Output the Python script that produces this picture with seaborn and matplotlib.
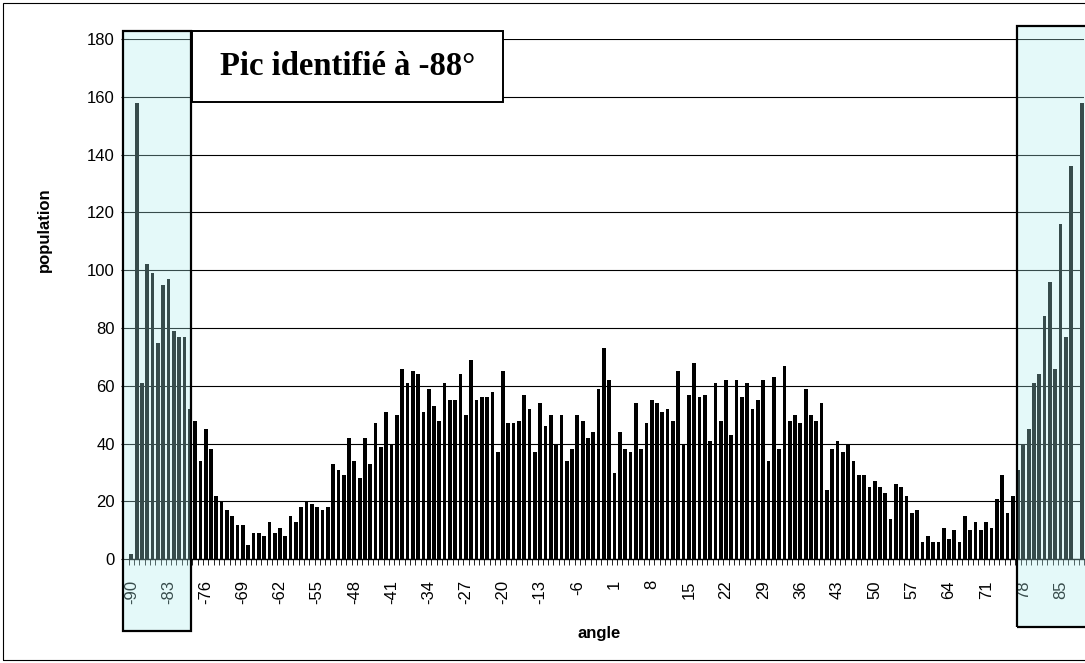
import numpy as np
import pandas as pd
import matplotlib
matplotlib.use("Agg")
import matplotlib.pyplot as plt
import seaborn as sns
from matplotlib.patches import Rectangle
from matplotlib.transforms import blended_transform_factory

# ---- data -------------------------------------------------------------
angles = list(range(-90, 90))
population = [
    2, 158, 61, 102, 99, 75, 95, 97, 79, 77,      # -90..-81
    77, 52, 48, 34, 45, 38, 22, 20, 17, 15,       # -80..-71
    12, 12, 5, 9, 9, 8, 13, 9, 11, 8,             # -70..-61
    15, 13, 18, 20, 19, 18, 17, 18, 33, 31,       # -60..-51
    29, 42, 34, 28, 42, 33, 47, 39, 51, 40,       # -50..-41
    50, 66, 61, 65, 64, 51, 59, 53, 48, 61,       # -40..-31
    55, 55, 64, 50, 69, 55, 56, 56, 58, 37,       # -30..-21
    65, 47, 47, 48, 57, 52, 37, 54, 46, 50,       # -20..-11
    40, 50, 34, 38, 50, 48, 42, 44, 59, 73,       # -10..-1
    62, 30, 44, 38, 37, 54, 38, 47, 55, 54,       # 0..9
    51, 52, 48, 65, 40, 57, 68, 56, 57, 41,       # 10..19
    61, 48, 62, 43, 62, 56, 61, 52, 55, 62,       # 20..29
    34, 63, 38, 67, 48, 50, 47, 59, 50, 48,       # 30..39
    54, 24, 38, 41, 37, 40, 34, 29, 29, 25,       # 40..49
    27, 25, 23, 14, 26, 25, 22, 16, 17, 6,        # 50..59
    8, 6, 6, 11, 7, 10, 6, 15, 10, 13,            # 60..69
    10, 13, 11, 21, 29, 16, 22, 31, 40, 45,       # 70..79
    61, 64, 84, 96, 66, 116, 77, 136, 0, 158,     # 80..89
]
tick_labels = [str(a) for a in range(-90, 90, 7)]
y_ticks = list(range(0, 181, 20))
annotation = "Pic identifié à -88°"
x_label = "angle"
y_label = "population"

# ---- figure -----------------------------------------------------------
sns.set_theme(style="white")
plt.rcParams["font.family"] = ["Liberation Sans", "DejaVu Sans"]
plt.rcParams.update({"text.color": "black", "axes.labelcolor": "black",
                     "xtick.color": "black", "ytick.color": "black"})

W, H = 1085, 663
fig = plt.figure(figsize=(W / 100, H / 100), dpi=100)
fig.patch.set_facecolor("white")

ax_l, ax_r, ax_b, ax_t = 128.7, 1084.4, 559.3, 39.0
ax = fig.add_axes([ax_l / W, (H - ax_b) / H, (ax_r - ax_l) / W, (ax_b - ax_t) / H])

df = pd.DataFrame({"angle": [str(a) for a in angles], "population": population})
sns.barplot(data=df, x="angle", y="population", order=list(df["angle"]),
            color="black", saturation=1, width=0.7, ax=ax, edgecolor="none")

ax.set_xlim(-0.5, len(angles) - 0.5)
ax.set_ylim(0, 180)
ax.set_yticks(y_ticks)
ax.set_yticklabels([str(v) for v in y_ticks], fontsize=12, color="black")
ax.yaxis.grid(True, color="black", linewidth=0.8)
ax.xaxis.grid(False)
ax.set_axisbelow(True)

major_pos = [angles.index(int(t)) for t in tick_labels]
ax.set_xticks(major_pos)
ax.set_xticklabels(tick_labels, rotation=90, fontsize=12, color="black")
ax.set_xticks(np.arange(-0.5, len(angles), 1), minor=True)
ax.tick_params(axis="x", which="major", length=0, pad=15)
ax.tick_params(axis="x", which="minor", length=4, width=0.6, color="black", direction="out", bottom=True)
ax.tick_params(axis="y", which="major", length=6, width=0.8, color="black", direction="out", left=True, pad=4)

for s in ["top", "right", "left"]:
    ax.spines[s].set_visible(False)
ax.spines["bottom"].set_color("black")
ax.spines["bottom"].set_linewidth(1.0)

ax.set_xlabel(x_label, fontsize=12, fontweight="bold", color="black")
ax.set_ylabel(y_label, fontsize=12, fontweight="bold", color="black")
ax.xaxis.set_label_coords((599 - ax_l) / (ax_r - ax_l), (ax_b - 626) / (ax_b - ax_t))
ax.yaxis.set_label_coords((52 - ax_l) / (ax_r - ax_l), (ax_b - 230) / (ax_b - ax_t))

# ---- highlight boxes (x in data, y in figure fraction) ----------------
tr = blended_transform_factory(ax.transData, fig.transFigure)
def px2data(px):
    return (px - 131.4) / 5.309

for x0px, x1px, y0px, y1px in [(123, 191.5, 30.7, 630.7), (1016.7, 1100, 26, 626.7)]:
    x0, x1 = px2data(x0px), px2data(x1px)
    y0, y1 = (H - y1px) / H, (H - y0px) / H
    ax.add_patch(Rectangle((x0, y0), x1 - x0, y1 - y0, transform=tr, clip_on=False,
                           facecolor="#aeeeee", alpha=0.32, edgecolor="none", zorder=5))
    ax.add_patch(Rectangle((x0, y0), x1 - x0, y1 - y0, transform=tr, clip_on=False,
                           facecolor="none", edgecolor="black", linewidth=1.6, zorder=6))

# ---- annotation box ---------------------------------------------------
bx0, bx1, by0, by1 = 191.7, 503, 30.7, 101.7
fig.patches.append(Rectangle((bx0 / W, (H - by1) / H), (bx1 - bx0) / W, (by1 - by0) / H,
                             transform=fig.transFigure, facecolor="white",
                             edgecolor="black", linewidth=1.4, zorder=10))
fig.text((bx0 + bx1) / 2 / W, (H - (by0 + by1) / 2) / H, annotation,
         family=["Liberation Serif", "DejaVu Serif"], fontweight="bold", fontsize=23.5,
         color="black", ha="center", va="center", zorder=11)

# ---- outer chart border -----------------------------------------------
fig.patches.append(Rectangle((3 / W, 3 / H), 1100 / W, (H - 6) / H, transform=fig.transFigure,
                             facecolor="none", edgecolor="black", linewidth=0.8, zorder=1))

fig.savefig("out.png", dpi=100)
